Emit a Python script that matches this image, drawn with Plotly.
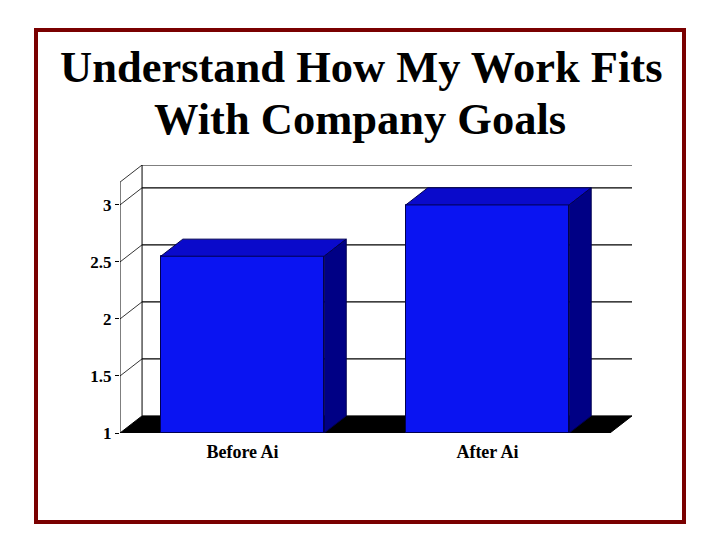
import plotly.graph_objects as go

# ---- data ----
categories = ["Before Ai", "After Ai"]
values = [2.55, 3.0]
y_min = 1.0
y_max = 3.2
y_ticks = [1, 1.5, 2, 2.5, 3]
y_tick_labels = ["1", "1.5", "2", "2.5", "3"]
title_lines = ["Understand How My Work Fits", "With Company Goals"]

# ---- style ----
OFF = 8                      # page body margin
W, H = 712, 532
M_L, M_R, M_T, M_B = 112, 88, 157, 107
bar_width = 0.667
dx, dy = 0.09, 0.15          # 3-D depth offset in data units
front_col = "#0A14F2"
top_col = "#0A0ACB"
side_col = "#000085"
edge_col = "#000050"
serif = "Liberation Serif, Times New Roman, serif"

x_lo, x_hi = -0.5, len(categories) - 0.5
plot_w = W - M_L - M_R
plot_h = H - M_T - M_B


def paper_x(px):
    return (px - OFF - M_L) / plot_w


def paper_y(py):
    return (H - M_B - (py - OFF)) / plot_h


fig = go.Figure()

shapes = []
line_style = dict(color="black", width=1.2)
# back wall gridlines & top
for v in y_ticks[1:] + [y_max]:
    shapes.append(dict(type="line", xref="x", yref="y", layer="below",
                       x0=x_lo + dx, x1=x_hi + dx, y0=v + dy, y1=v + dy,
                       line=line_style))
# side wall diagonals
for v in y_ticks[1:] + [y_max]:
    shapes.append(dict(type="line", xref="x", yref="y", layer="below",
                       x0=x_lo, x1=x_lo + dx, y0=v, y1=v + dy,
                       line=dict(color="black", width=0.8)))
# back wall left edge
shapes.append(dict(type="line", xref="x", yref="y", layer="below",
                   x0=x_lo + dx, x1=x_lo + dx, y0=y_min + dy, y1=y_max + dy,
                   line=dict(color="black", width=1)))
# front value axis
shapes.append(dict(type="line", xref="x", yref="y", layer="below",
                   x0=x_lo, x1=x_lo, y0=y_min, y1=y_max, line=dict(color="black", width=1)))
# floor
shapes.append(dict(type="path", xref="x", yref="y", layer="below",
                   path=f"M {x_lo},{y_min} L {x_hi},{y_min} L {x_hi+dx},{y_min+dy} "
                        f"L {x_lo+dx},{y_min+dy} Z",
                   fillcolor="black", line=dict(color="black", width=1)))
# frame border
shapes.append(dict(type="rect", xref="paper", yref="paper", layer="above",
                   x0=paper_x(36), x1=paper_x(684), y0=paper_y(522), y1=paper_y(30),
                   line=dict(color="#7A0000", width=4)))

# front faces
fig.add_trace(go.Bar(
    x=list(range(len(categories))), y=[v - y_min for v in values], base=y_min,
    width=bar_width, marker=dict(color=front_col, line=dict(color=edge_col, width=1)),
    hoverinfo="skip", showlegend=False))

# top and side faces
for i, v in enumerate(values):
    xl, xr = i - bar_width / 2, i + bar_width / 2
    fig.add_trace(go.Scatter(
        x=[xl, xr, xr + dx, xl + dx, xl], y=[v, v, v + dy, v + dy, v],
        mode="lines", fill="toself", fillcolor=top_col,
        line=dict(color=edge_col, width=1), hoverinfo="skip", showlegend=False))
    fig.add_trace(go.Scatter(
        x=[xr, xr + dx, xr + dx, xr, xr], y=[y_min, y_min + dy, v + dy, v, y_min],
        mode="lines", fill="toself", fillcolor=side_col,
        line=dict(color=edge_col, width=1), hoverinfo="skip", showlegend=False))

annotations = [
    dict(text=f"<b>{title_lines[0]}</b>", xref="paper", yref="paper",
         x=paper_x(361), y=paper_y(67), xanchor="center", yanchor="middle",
         showarrow=False, font=dict(family=serif, size=44.5, color="black")),
    dict(text=f"<b>{title_lines[1]}</b>", xref="paper", yref="paper",
         x=paper_x(360), y=paper_y(119), xanchor="center", yanchor="middle",
         showarrow=False, font=dict(family=serif, size=44.5, color="black")),
]

fig.update_layout(
    width=W, height=H, autosize=False,
    margin=dict(l=M_L, r=M_R, t=M_T, b=M_B, pad=0),
    paper_bgcolor="white", plot_bgcolor="white",
    shapes=shapes, annotations=annotations, showlegend=False,
    bargap=0,
    xaxis=dict(range=[x_lo, x_hi + dx], tickvals=list(range(len(categories))),
               ticktext=[f"<b>{c}</b>" for c in categories], showgrid=False,
               zeroline=False, showline=False, ticks="", ticklabelstandoff=6,
               tickfont=dict(family=serif, size=18, color="black"), fixedrange=True),
    yaxis=dict(range=[y_min, y_max + dy], tickvals=y_ticks,
               ticktext=[f"<b>{t}</b>" for t in y_tick_labels], showgrid=False,
               zeroline=False, showline=False, ticks="outside", ticklen=4,
               tickcolor="black", tickwidth=1,
               tickfont=dict(family=serif, size=17, color="black"), fixedrange=True),
)

fig.write_html("out.html", config={"displayModeBar": False})
